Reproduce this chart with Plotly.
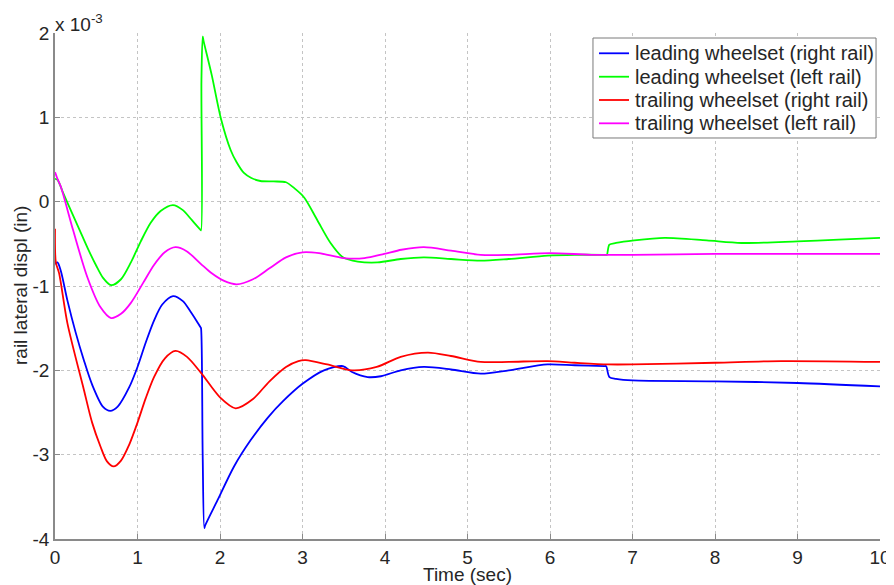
import plotly.graph_objects as go

# values in units of 1e-3 in
t_lead_right = [0.0, 0.03, 0.07, 0.15, 0.25, 0.35, 0.45, 0.58, 0.67, 0.76, 0.9, 1.0, 1.1, 1.2, 1.3, 1.43, 1.55, 1.64, 1.72,
                1.765, 1.77, 1.79, 1.81, 1.82, 1.97, 2.17, 2.37, 2.58, 2.77, 3.0, 3.26, 3.49, 3.6, 3.79, 3.95, 4.19,
                4.47, 4.8, 5.16, 5.5, 5.97, 6.3, 6.66, 6.68, 6.72, 6.8, 7.0, 8.0, 9.0, 10.0]
v_lead_right = [-0.74, -0.72, -0.82, -1.17, -1.55, -1.88, -2.17, -2.43, -2.48, -2.43, -2.20, -1.96, -1.67, -1.41, -1.22,
                -1.12, -1.18, -1.30, -1.42, -1.49, -1.50, -3.0, -3.87, -3.84, -3.54, -3.14, -2.83, -2.56, -2.36, -2.16,
                -2.0, -1.95, -2.02, -2.08, -2.07, -2.0, -1.96, -1.99, -2.04, -2.0, -1.93, -1.94, -1.95, -1.95, -2.08,
                -2.10, -2.12, -2.13, -2.15, -2.19]

t_lead_left = [0.0, 0.03, 0.1, 0.2, 0.3, 0.4, 0.5, 0.58, 0.68, 0.8, 0.92, 1.04, 1.16, 1.28, 1.43, 1.55, 1.66, 1.76, 1.77,
               1.775, 1.79, 1.80, 1.9, 2.01, 2.13, 2.2, 2.29, 2.38, 2.49, 2.65, 2.8, 2.9, 3.02, 3.18, 3.34, 3.49, 3.67,
               3.91, 4.19, 4.47, 4.8, 5.16, 5.5, 5.97, 6.3, 6.68, 6.69, 6.72, 6.8, 7.02, 7.39, 7.9, 8.32, 9.0, 9.5, 10.0]
v_lead_left = [0.27, 0.26, 0.10, -0.12, -0.34, -0.56, -0.76, -0.90, -0.99, -0.92, -0.72, -0.47, -0.25, -0.11, -0.04,
               -0.10, -0.22, -0.33, -0.34, 1.44, 1.96, 1.91, 1.50, 0.99, 0.61, 0.47, 0.34, 0.28, 0.245, 0.24, 0.23,
               0.16, 0.05, -0.22, -0.49, -0.66, -0.71, -0.72, -0.68, -0.66, -0.68, -0.70, -0.68, -0.64, -0.63, -0.63,
               -0.63, -0.51, -0.49, -0.46, -0.43, -0.46, -0.49, -0.47, -0.45, -0.43]

t_trail_right = [0.0, 0.01, 0.05, 0.15, 0.35, 0.45, 0.55, 0.63, 0.71, 0.8, 0.9, 1.0, 1.1, 1.2, 1.33, 1.46, 1.6, 1.77, 2.0,
                 2.19, 2.4, 2.6, 2.8, 2.95, 3.04, 3.3, 3.6, 3.9, 4.19, 4.52, 4.8, 5.16, 5.5, 5.97, 6.3, 6.7, 7.0, 8.0,
                 8.8, 10.0]
v_trail_right = [-0.32, -0.72, -0.85, -1.44, -2.23, -2.62, -2.90, -3.08, -3.14, -3.07, -2.88, -2.62, -2.33, -2.08, -1.86,
                 -1.77, -1.84, -2.03, -2.32, -2.45, -2.34, -2.13, -1.96, -1.89, -1.88, -1.93, -2.0, -1.96, -1.84, -1.79,
                 -1.83, -1.90, -1.90, -1.89, -1.91, -1.93, -1.93, -1.91, -1.89, -1.90]

t_trail_left = [0.0, 0.03, 0.07, 0.22, 0.39, 0.55, 0.68, 0.8, 0.92, 1.07, 1.2, 1.33, 1.46, 1.6, 1.77, 1.9, 2.05, 2.2, 2.4,
                2.6, 2.8, 3.0, 3.2, 3.5, 3.75, 3.99, 4.2, 4.47, 4.8, 5.16, 5.5, 6.0, 6.5, 7.0, 8.0, 9.0, 10.0]
v_trail_left = [0.35, 0.27, 0.18, -0.34, -0.89, -1.25, -1.38, -1.33, -1.20, -0.96, -0.75, -0.60, -0.54, -0.59, -0.74,
                -0.85, -0.94, -0.98, -0.92, -0.79, -0.66, -0.60, -0.61, -0.67, -0.67, -0.62, -0.57, -0.54, -0.58, -0.63,
                -0.63, -0.61, -0.63, -0.63, -0.62, -0.62, -0.62]

series_names = ["leading wheelset (right rail)", "leading wheelset (left rail)",
                "trailing wheelset (right rail)", "trailing wheelset (left rail)"]
series_colors = ["#0000ff", "#00ff00", "#ff0000", "#ff00ff"]
series_t = [t_lead_right, t_lead_left, t_trail_right, t_trail_left]
series_v = [v_lead_right, v_lead_left, v_trail_right, v_trail_left]

x_ticks = list(range(0, 11))
y_ticks = [-4, -3, -2, -1, 0, 1, 2]

FONT = "Liberation Sans, Arial, sans-serif"
TXT = "#262626"

fig = go.Figure()
for name, color, t, v in zip(series_names, series_colors, series_t, series_v):
    fig.add_trace(go.Scatter(x=t, y=v, mode="lines", name=name, showlegend=False,
                             line=dict(color=color, width=1.8, shape="spline", smoothing=0.8)))

axis_common = dict(showgrid=True, gridcolor="#c4c4c4", griddash="dot", gridwidth=1,
                   showline=True, linecolor="#8a8a8a", linewidth=1.5,
                   ticks="inside", ticklen=5, tickcolor="#8a8a8a", automargin=False,
                   zeroline=False, tickfont=dict(family=FONT, size=19, color=TXT))

# the page body adds an 8px offset, margins compensate for it
fig.update_layout(
    width=894, height=585,
    margin=dict(l=47, r=22, t=25, b=54),
    paper_bgcolor="white", plot_bgcolor="white",
    font=dict(family=FONT, size=19, color=TXT),
    xaxis=dict(range=[0, 10], tickvals=x_ticks, ticktext=[str(v) for v in x_ticks], **axis_common),
    yaxis=dict(range=[-4, 2], tickvals=y_ticks, ticktext=[str(v) for v in y_ticks], **axis_common),
    showlegend=False,
)

# axis titles and exponent label
fig.add_annotation(xref="paper", yref="paper", x=0.5, y=0, xanchor="center", yanchor="middle",
                   yshift=-35.5, text="Time (sec)", showarrow=False, borderpad=0,
                   font=dict(family=FONT, size=19, color=TXT))
fig.add_annotation(xref="paper", yref="paper", x=0, y=0.5, xanchor="center", yanchor="middle",
                   xshift=-35, textangle=-90, text="rail lateral displ (in)", showarrow=False,
                   font=dict(family=FONT, size=19, color=TXT))
fig.add_annotation(xref="paper", yref="paper", x=0, y=1, xanchor="left", yanchor="bottom",
                   text="x 10<sup>-3</sup>", showarrow=False, yshift=-4, xshift=-2,
                   font=dict(family=FONT, size=19, color=TXT))

# legend box (MATLAB style)
leg_x0, leg_x1, leg_y0, leg_y1 = 0.6521, 0.9952, 0.7925, 0.9901
row_y = [0.9599, 0.9136, 0.8676, 0.8215]
line_x0, line_x1, text_x = 0.6594, 0.6958, 0.7002
fig.add_shape(type="rect", xref="paper", yref="paper", x0=leg_x0, x1=leg_x1, y0=leg_y0, y1=leg_y1,
              fillcolor="white", line=dict(color="#7a7a7a", width=1), layer="above")
for name, color, ry in zip(series_names, series_colors, row_y):
    fig.add_shape(type="line", xref="paper", yref="paper", x0=line_x0, x1=line_x1, y0=ry, y1=ry,
                  line=dict(color=color, width=1.8), layer="above")
    fig.add_annotation(xref="paper", yref="paper", x=text_x, y=ry, xanchor="left", yanchor="middle",
                       text=name, showarrow=False, font=dict(family=FONT, size=20, color=TXT))

fig.write_html("out.html")
